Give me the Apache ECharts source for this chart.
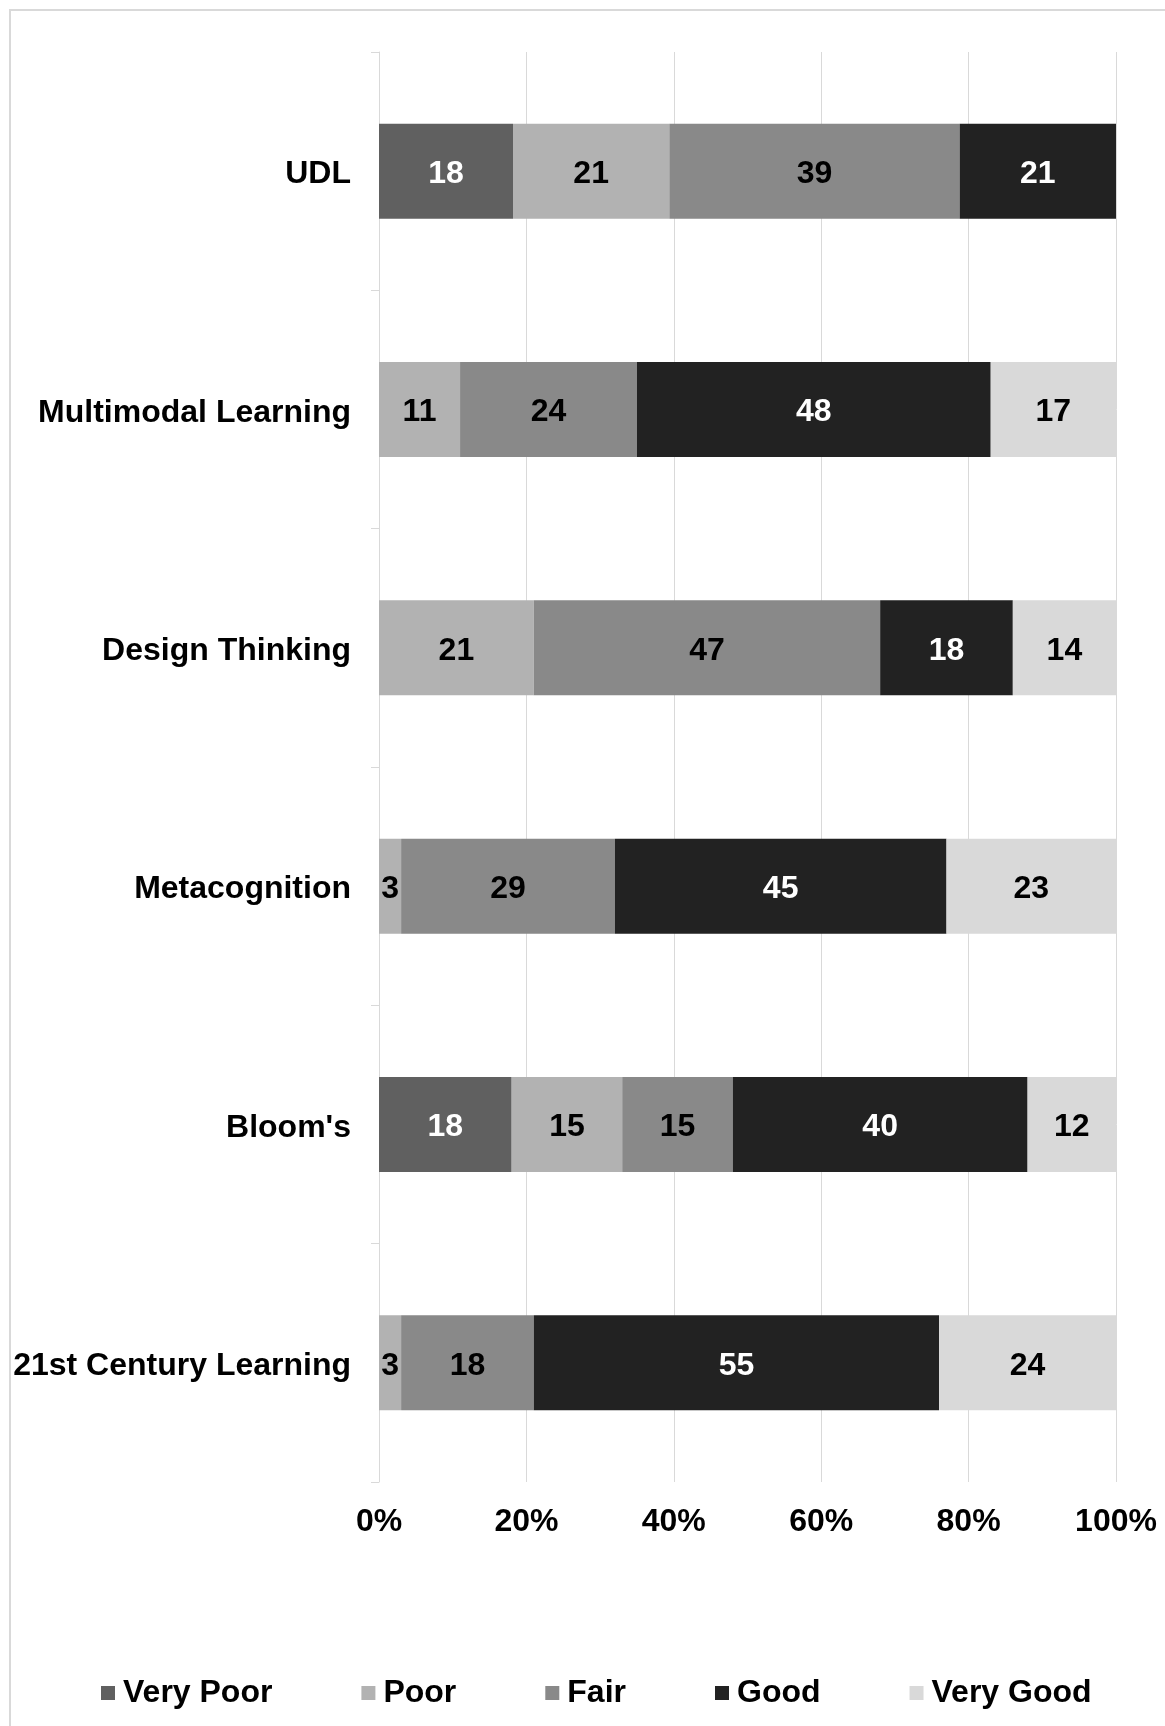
<!DOCTYPE html>
<html>
<head>
<meta charset="utf-8">
<script src="https://cdn.jsdelivr.net/npm/echarts@6/dist/echarts.min.js"></script>
<style>
html,body{margin:0;padding:0;background:#fff;}
#chart{width:1165px;height:1726px;}
</style>
</head>
<body>
<div id="chart"></div>
<script>
const categories = ["UDL", "Multimodal Learning", "Design Thinking", "Metacognition", "Bloom's", "21st Century Learning"];
const seriesNames = ["Very Poor", "Poor", "Fair", "Good", "Very Good"];
const veryPoor = [18, null, null, null, 18, null];
const poor     = [21, 11, 21, 3, 15, 3];
const fair     = [39, 24, 47, 29, 15, 18];
const good     = [21, 48, 18, 45, 40, 55];
const veryGood = [null, 17, 14, 23, 12, 24];
const xTicks = [0, 20, 40, 60, 80, 100];

const raw = [veryPoor, poor, fair, good, veryGood];
const colors = ["#606060", "#b2b2b2", "#898989", "#222222", "#d9d9d9"];
const labelColors = ["#ffffff", "#000000", "#000000", "#ffffff", "#000000"];
const totals = categories.map((c, i) => raw.reduce((s, arr) => s + (arr[i] || 0), 0));
const FONT = "'Liberation Sans', Arial, sans-serif";

const chart = echarts.init(document.getElementById('chart'));
chart.setOption({
  animation: false,
  backgroundColor: '#ffffff',
  graphic: [{
    type: 'rect',
    shape: {x: 10, y: 10, width: 1300, height: 1800},
    style: {fill: 'none', stroke: '#d9d9d9', lineWidth: 2},
    silent: true, z: -10
  }],
  grid: {left: 379, right: 49, top: 52, bottom: 244, containLabel: false},
  xAxis: {
    type: 'value', min: xTicks[0], max: xTicks[xTicks.length - 1], interval: 20,
    axisLine: {show: false}, axisTick: {show: false},
    splitLine: {show: true, lineStyle: {color: '#d9d9d9', width: 1}},
    axisLabel: {formatter: v => v + '%', color: '#000', fontSize: 32, fontWeight: 'bold', fontFamily: FONT, margin: 24}
  },
  yAxis: {
    type: 'category', data: categories, inverse: true,
    axisLine: {show: true, lineStyle: {color: '#d9d9d9', width: 1}},
    axisTick: {show: true, length: 8, lineStyle: {color: '#d9d9d9'}},
    axisLabel: {color: '#000', fontSize: 32, fontWeight: 'bold', fontFamily: FONT, margin: 28,
      formatter: v => '{a|' + v + '}',
      rich: {a: {color: '#000', fontSize: 32, fontWeight: 'bold', fontFamily: FONT, padding: [7, 0, 0, 0]}}}
  },
  legend: {
    data: seriesNames, left: 96, top: 1672, orient: 'horizontal',
    itemWidth: 14, itemHeight: 14, itemGap: 89, icon: 'rect',
    textStyle: {color: '#000', fontSize: 32, fontWeight: 'bold', fontFamily: FONT, padding: [0, 0, 0, 3]}
  },
  series: seriesNames.map((name, k) => ({
    name: name, type: 'bar', stack: 'total', barWidth: 95,
    itemStyle: {color: colors[k]},
    label: {
      show: true, position: 'inside', offset: [0, 3], color: labelColors[k], fontSize: 32, fontWeight: 'bold', fontFamily: FONT,
      formatter: p => raw[k][p.dataIndex] == null ? '' : String(raw[k][p.dataIndex])
    },
    data: raw[k].map((v, i) => v == null ? null : v / totals[i] * 100)
  }))
});
</script>
</body>
</html>
